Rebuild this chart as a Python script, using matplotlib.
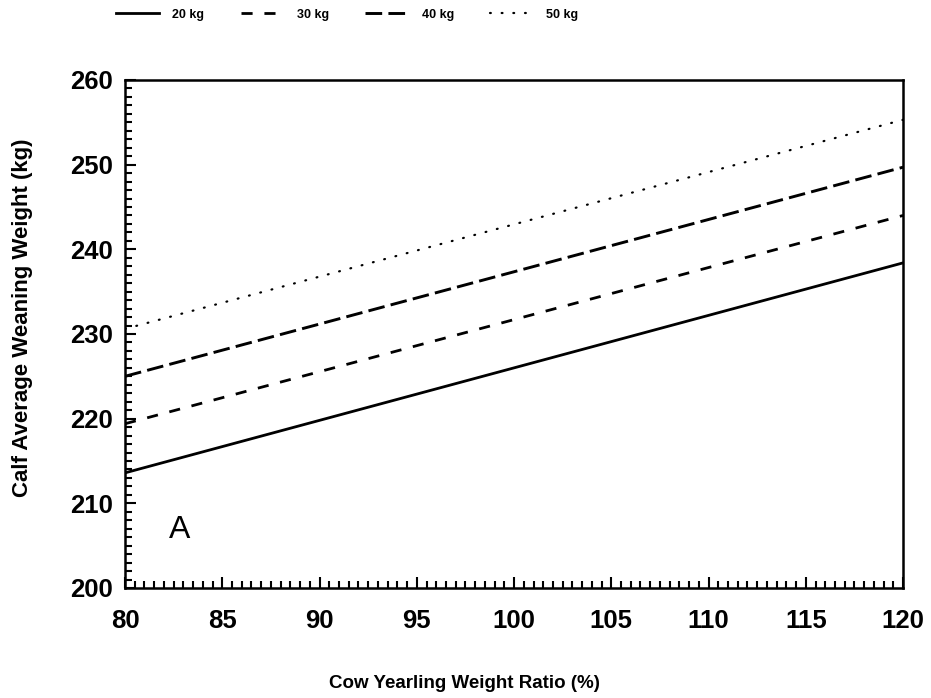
import matplotlib
matplotlib.use("Agg")
import matplotlib.pyplot as plt
from matplotlib.ticker import MultipleLocator

plt.rcParams['font.family'] = ['Liberation Sans', 'DejaVu Sans']
plt.rcParams['font.weight'] = 'bold'
plt.rcParams['lines.scale_dashes'] = False

# Cow yearling weight ratio (%) at both ends of each line
ratio = [80, 120]

# Calf average weaning weight (kg) for each increment
labels = ['20 kg', '30 kg', '40 kg', '50 kg']
w20 = [213.6, 238.4]
w30 = [219.4, 244.0]
w40 = [225.0, 249.7]
w50 = [230.6, 255.3]

styles = [
    dict(linestyle='-', linewidth=2.0),
    dict(linestyle=(0, (8, 8.5)), linewidth=2.0),
    dict(linestyle=(0, (12, 4.5)), linewidth=2.1),
    dict(linestyle=(0, (0.6, 7.8)), linewidth=1.6, dash_capstyle='round'),
]

fig = plt.figure(figsize=(9.31, 6.98), dpi=100)
ax = fig.add_axes([0.1343, 0.1576, 0.8357, 0.7278])

for ys, lab, st in zip([w20, w30, w40, w50], labels, styles):
    ax.plot(ratio, ys, color='black', label=lab, **st)

ax.set_xlim(80, 120)
ax.set_ylim(200, 260)
ax.xaxis.set_major_locator(MultipleLocator(5))
ax.xaxis.set_minor_locator(MultipleLocator(0.5))
ax.yaxis.set_major_locator(MultipleLocator(10))
ax.yaxis.set_minor_locator(MultipleLocator(1))
ax.tick_params(which='both', direction='in', width=1.5, top=False, right=False,
               labelsize=18.5)
ax.tick_params(axis='x', which='major', pad=15)
ax.tick_params(axis='y', which='major', pad=9)
ax.tick_params(which='major', length=8)
ax.tick_params(which='minor', length=5)
for sp in ax.spines.values():
    sp.set_linewidth(1.8)

ax.set_xlabel('Cow Yearling Weight Ratio (%)', fontsize=13.5, fontweight='bold')
ax.set_ylabel('Calf Average Weaning Weight (kg)', fontsize=16, fontweight='bold')
ax.xaxis.set_label_coords(0.436, -0.171)
ax.yaxis.set_label_coords(-0.118, 0.531)

ax.text(82.8, 206.8, 'A', fontsize=23, fontweight='normal', ha='center', va='center')

fig.legend(loc='center', bbox_to_anchor=(0.373, 0.979), ncol=4, frameon=False,
           handlelength=3.4, handletextpad=1.1, columnspacing=2.9,
           prop={'weight': 'bold', 'size': 9})

fig.savefig('out.png', dpi=100)
